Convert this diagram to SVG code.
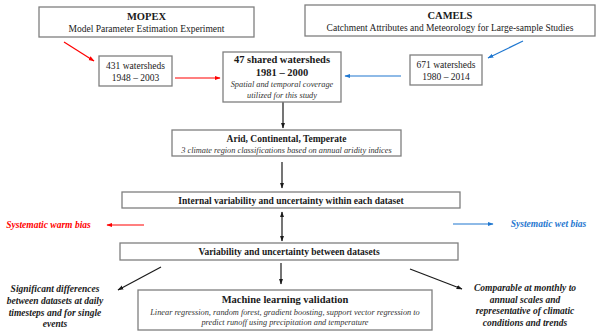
<svg xmlns="http://www.w3.org/2000/svg" width="600" height="333" viewBox="0 0 600 333" font-family="'Liberation Serif', 'Times New Roman', 'DejaVu Serif', serif">
<style>
.box{fill:#fff;stroke:#7f7f7f;stroke-width:1.3}
text{fill:#1a1a1a;text-anchor:middle}
.t{font-size:10.5px;font-weight:bold}
.s{font-size:9.5px}
.i{font-size:8.3px;font-style:italic;fill:#333}
.bi{font-size:9.5px;font-weight:bold;font-style:italic}
.k{stroke:#1a1a1a;stroke-width:1.2;fill:none}
.r{stroke:#ff0000;stroke-width:1.2;fill:none}
.b{stroke:#1f77d0;stroke-width:1.2;fill:none}
</style>
<defs>
<marker id="ak" viewBox="0 0 10 10" refX="9" refY="5" markerWidth="5" markerHeight="5" orient="auto-start-reverse"><path d="M0,1.5L10,5L0,8.5z" fill="#1a1a1a"/></marker>
<marker id="ar" viewBox="0 0 10 10" refX="9" refY="5" markerWidth="5" markerHeight="5" orient="auto"><path d="M0,1.5L10,5L0,8.5z" fill="#ff0000"/></marker>
<marker id="ab" viewBox="0 0 10 10" refX="9" refY="5" markerWidth="5" markerHeight="5" orient="auto"><path d="M0,1.5L10,5L0,8.5z" fill="#1f77d0"/></marker>
</defs>
<g id="connectors">
<line class="r" x1="64" y1="42" x2="94" y2="61" marker-end="url(#ar)"/>
<line class="r" x1="175" y1="78" x2="220" y2="78" marker-end="url(#ar)"/>
<line class="b" x1="523" y1="41" x2="488" y2="58" marker-end="url(#ab)"/>
<line class="b" x1="401" y1="76" x2="345" y2="76" marker-end="url(#ab)"/>
<line class="k" x1="283" y1="102" x2="283" y2="128" marker-end="url(#ak)"/>
<line class="k" x1="282" y1="162" x2="282" y2="188" marker-end="url(#ak)"/>
<line class="k" x1="282" y1="212" x2="282" y2="241" marker-start="url(#ak)" marker-end="url(#ak)"/>
<line class="r" x1="144" y1="225" x2="107" y2="225" marker-end="url(#ar)"/>
<line class="b" x1="453" y1="224" x2="493" y2="224" marker-end="url(#ab)"/>
<line class="k" x1="281" y1="263" x2="281" y2="284" marker-end="url(#ak)"/>
<line class="k" x1="161" y1="267" x2="118" y2="290" marker-end="url(#ak)"/>
<line class="k" x1="410" y1="269" x2="462" y2="289" marker-end="url(#ak)"/>
</g>
<g id="mopex">
<rect class="box" x="39" y="7" width="215" height="30"/>
<text class="t" x="146.5" y="20">MOPEX</text>
<text class="s" x="146.5" y="32">Model Parameter Estimation Experiment</text>
</g>
<g id="camels">
<rect class="box" x="305" y="5" width="290" height="31"/>
<text class="t" x="450" y="19">CAMELS</text>
<text class="s" x="450" y="31">Catchment Attributes and Meteorology for Large-sample Studies</text>
</g>
<g id="mopex-ws">
<rect class="box" x="99" y="56" width="73" height="30"/>
<text class="s" x="135.5" y="69">431 watersheds</text>
<text class="s" x="135.5" y="81">1948 – 2003</text>
</g>
<g id="camels-ws">
<rect class="box" x="410" y="55" width="72" height="30"/>
<text class="s" x="446" y="68">671 watersheds</text>
<text class="s" x="446" y="80">1980 – 2014</text>
</g>
<g id="shared">
<rect class="box" x="223" y="52" width="118" height="50"/>
<text class="t" x="282" y="63">47 shared watersheds</text>
<text class="t" x="282" y="76">1981 – 2000</text>
<text class="i" x="282" y="87">Spatial and temporal coverage</text>
<text class="i" x="282" y="98">utilized for this study</text>
</g>
<g id="climate">
<rect class="box" x="172" y="130" width="229" height="26"/>
<text class="t" x="286.5" y="142" style="font-size:9.5px">Arid, Continental, Temperate</text>
<text class="i" x="286.5" y="152.5">3 climate region classifications based on annual aridity indices</text>
</g>
<g id="internal">
<rect class="box" x="122" y="192" width="338" height="16"/>
<text class="t" x="291" y="203.5" style="font-size:9.5px">Internal variability and uncertainty within each dataset</text>
</g>
<g id="between">
<rect class="box" x="120" y="243" width="338" height="17"/>
<text class="t" x="289" y="254.5" style="font-size:9.5px">Variability and uncertainty between datasets</text>
</g>
<g id="warm">
<text class="bi" x="48.5" y="228" style="fill:#ff0000">Systematic warm bias</text>
</g>
<g id="wet">
<text class="bi" x="548.5" y="227" style="fill:#1f77d0">Systematic wet bias</text>
</g>
<g id="ml">
<rect class="box" x="138" y="290" width="294" height="40"/>
<text class="t" x="285" y="303">Machine learning validation</text>
<text class="i" x="285" y="315">Linear regression, random forest, gradient boosting, support vector regression to</text>
<text class="i" x="285" y="325">predict runoff using precipitation and temperature</text>
</g>
<g id="daily">
<text class="bi" x="55" y="292">Significant differences</text>
<text class="bi" x="55" y="304">between datasets at daily</text>
<text class="bi" x="55" y="316">timesteps and for single</text>
<text class="bi" x="55" y="327">events</text>
</g>
<g id="monthly">
<text class="bi" x="525" y="291">Comparable at monthly to</text>
<text class="bi" x="525" y="302.5">annual scales and</text>
<text class="bi" x="525" y="314">representative of climatic</text>
<text class="bi" x="525" y="325.5">conditions and trends</text>
</g>
</svg>
